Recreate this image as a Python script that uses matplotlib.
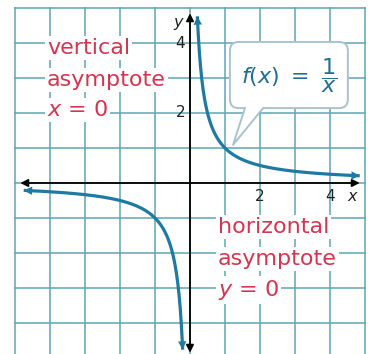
import numpy as np
import matplotlib
matplotlib.use("Agg")
import matplotlib.pyplot as plt
from matplotlib.patches import FancyBboxPatch, Polygon, FancyArrowPatch

plt.rcParams['font.family'] = ['DejaVu Sans']

# grid extent and labelled ticks
grid_min, grid_max = -5, 5
x_ticks = [2, 4]
y_ticks = [2, 4]

# x-ranges of the two branches of f(x) = 1/x
right_branch = (0.21, 4.85)
left_branch = (-4.75, -0.21)

GRID = '#5fa5b2'
CURVE = '#1f7aa3'
RED = '#d8344f'
LABEL = '#1d6f96'

fig = plt.figure(figsize=(3.70, 3.54), dpi=100)
ax = fig.add_axes([0, 0, 1, 1])
ax.set_xlim(-190 / 35, 180 / 35)
ax.set_ylim(-171 / 35, 183 / 35)
ax.axis('off')

# square grid
for v in range(grid_min, grid_max + 1):
    ax.plot([v, v], [grid_min, grid_max], color=GRID, lw=1.1, zorder=1)
    ax.plot([grid_min, grid_max], [v, v], color=GRID, lw=1.1, zorder=1)

# axes with arrowheads at both ends
def double_arrow(p0, p1, color, lw, z):
    a = FancyArrowPatch(p0, p1, arrowstyle='<|-|>', mutation_scale=11,
                        color=color, lw=lw, zorder=z, shrinkA=0, shrinkB=0)
    ax.add_patch(a)

double_arrow((-4.85, 0), (4.85, 0), 'black', 1.3, 3)
double_arrow((0, -4.85), (0, 4.85), 'black', 1.3, 3)

# branches of the reciprocal function
def branch(lo, hi):
    xs = np.linspace(lo, hi, 400)
    ys = 1.0 / xs
    ax.plot(xs, ys, color=CURVE, lw=2.3, zorder=4, solid_capstyle='butt')
    for i0, i1 in ((3, 0), (-4, -1)):
        a = FancyArrowPatch((xs[i0], ys[i0]), (xs[i1], ys[i1]), arrowstyle='-|>',
                            mutation_scale=15, color=CURVE, lw=0, zorder=4,
                            shrinkA=0, shrinkB=0)
        ax.add_patch(a)

branch(*right_branch)
branch(*left_branch)

# tick labels
for t in x_ticks:
    ax.text(t, -0.4, str(t), ha='center', va='center', fontsize=11, color='#222222', zorder=5)
for t in y_ticks:
    ax.text(-0.27, t, str(t), ha='center', va='center', fontsize=11, color='#222222', zorder=5)
ax.text(-0.34, 4.6, 'y', ha='center', va='center', fontsize=11.5, style='italic', color='#222222', zorder=5)
ax.text(4.63, -0.4, 'x', ha='center', va='center', fontsize=11.5, style='italic', color='#222222', zorder=5)

# asymptote annotations
box = dict(boxstyle='square,pad=0.08', fc='white', ec='none')
for s, y in (('vertical', 3.86), ('asymptote', 2.94), ('$x$ = 0', 2.09)):
    ax.text(-4.09, y, s, ha='left', va='center', fontsize=16, color=RED, bbox=box, zorder=5)
for s, y in (('horizontal', -1.26), ('asymptote', -2.17), ('$y$ = 0', -3.06)):
    ax.text(0.8, y, s, ha='left', va='center', fontsize=16, color=RED, bbox=box, zorder=5)

# callout with the function rule
bx0, bx1, by0, by1 = 1.14, 4.51, 2.14, 4.03
EDGE = '#a8c3ce'
ax.add_patch(FancyBboxPatch((bx0, by0), bx1 - bx0, by1 - by0,
                            boxstyle='round,pad=0,rounding_size=0.25',
                            fc='white', ec=EDGE, lw=1.4, zorder=6))
tail = [(1.57, by0 + 0.03), (1.23, 1.09), (2.09, by0 + 0.03)]
ax.add_patch(Polygon(tail, closed=True, fc='white', ec='none', zorder=7))
ax.plot([1.57, 1.23, 2.09], [by0, 1.09, by0], color=EDGE, lw=1.4, zorder=7)
ax.text(2.83, 3.07, r'$f(x)\ =\ \dfrac{1}{x}$', ha='center', va='center',
        fontsize=16, color=LABEL, zorder=8)

fig.savefig('out.png', dpi=100)
